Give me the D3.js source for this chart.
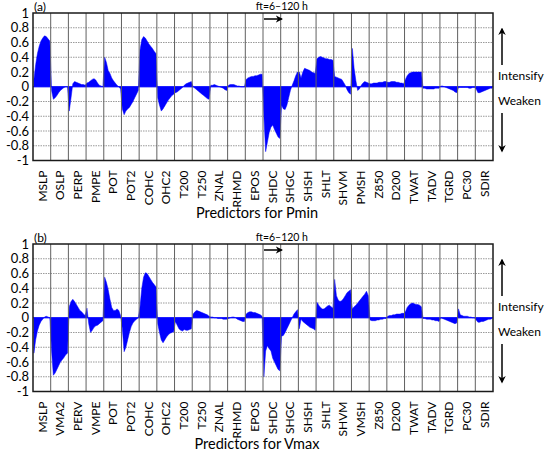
<!DOCTYPE html>
<html>
<head>
<meta charset="utf-8">
<script src="https://cdn.jsdelivr.net/npm/d3@7"></script>
<style>
  body { margin: 0; background: #fff; }
  svg text { font-family: Lato, "Open Sans", sans-serif; }
</style>
</head>
<body>
<div id="chart"></div>
<script>
// predictor names along the x axis
var predictorsA = ["MSLP","OSLP","PERP","PMPE","POT","POT2","COHC","OHC2","T200","T250","ZNAL","RHMD","EPOS",
                   "SHDC","SHGC","SHSH","SHLT","SHVM","PMSH","Z850","D200","TWAT","TADV","TGRD","PC30","SDIR"];
var predictorsB = ["MSLP","VMA2","PERV","VMPE","POT","POT2","COHC","OHC2","T200","T250","ZNAL","RHMD","EPOS",
                   "SHDC","SHGC","SHSH","SHLT","SHVM","VMSH","Z850","D200","TWAT","TADV","TGRD","PC30","SDIR"];

// values, one row per predictor, ft = 12..120 h
var valuesA = [
  [0.1, 0.3, 0.45, 0.55, 0.62, 0.66, 0.69, 0.68, 0.65, 0.62],
  [-0.05, -0.17, -0.15, -0.12, -0.08, -0.05, -0.03, -0.01, 0, 0],
  [-0.33, -0.15, 0.04, 0.07, 0.06, 0.05, 0.04, 0.03, 0.03, 0.02],
  [0.05, 0.06, 0.08, 0.1, 0.11, 0.09, 0.05, 0.02, 0.01, 0],
  [0.4, 0.33, 0.22, 0.18, 0.12, 0.08, 0.05, 0.02, 0, -0.03],
  [-0.3, -0.38, -0.33, -0.3, -0.28, -0.24, -0.2, -0.15, -0.1, -0.05],
  [0.5, 0.64, 0.68, 0.66, 0.62, 0.58, 0.55, 0.52, 0.48, 0.45],
  [-0.15, -0.25, -0.33, -0.3, -0.26, -0.22, -0.18, -0.15, -0.12, -0.1],
  [-0.08, -0.07, -0.05, -0.03, -0.01, 0.02, 0.04, 0.05, 0.06, 0.07],
  [0, -0.02, -0.04, -0.06, -0.08, -0.1, -0.12, -0.14, -0.16, -0.17],
  [0.02, 0.02, 0.03, 0.02, 0.01, 0, -0.01, -0.02, -0.04, -0.05],
  [0.02, 0.03, 0.03, 0.03, 0.02, 0.01, 0.01, 0, 0, 0],
  [0.1, 0.12, 0.13, 0.14, 0.14, 0.15, 0.15, 0.16, 0.17, 0.17],
  [-0.4, -0.88, -0.75, -0.62, -0.55, -0.52, -0.58, -0.63, -0.68, -0.7],
  [-0.25, -0.3, -0.31, -0.25, -0.15, -0.05, 0.02, 0.08, 0.15, 0.2],
  [0.2, 0.12, 0.2, 0.25, 0.24, 0.23, 0.22, 0.2, 0.19, 0.18],
  [0.38, 0.4, 0.41, 0.4, 0.39, 0.38, 0.38, 0.37, 0.37, 0.36],
  [0.14, 0.13, 0.12, 0.11, 0.1, 0.06, 0.02, -0.04, -0.08, -0.1],
  [0.52, 0.25, 0.08, -0.05, -0.03, 0.02, 0.05, 0.07, 0.06, 0.05],
  [0.04, 0.04, 0.05, 0.05, 0.05, 0.06, 0.06, 0.06, 0.07, 0.07],
  [0.06, 0.06, 0.07, 0.07, 0.07, 0.06, 0.06, 0.05, 0.05, 0.04],
  [0.1, 0.15, 0.18, 0.19, 0.2, 0.2, 0.2, 0.2, 0.2, 0.2],
  [-0.02, -0.02, -0.03, -0.03, -0.03, -0.03, -0.03, -0.02, -0.02, -0.02],
  [0.01, 0.01, 0, -0.01, -0.02, -0.03, -0.04, -0.05, -0.07, -0.08],
  [-0.01, -0.01, -0.01, -0.01, -0.01, -0.01, -0.02, -0.02, -0.01, -0.01],
  [-0.03, -0.08, -0.08, -0.07, -0.06, -0.05, -0.04, -0.03, -0.02, -0.02]
];
var valuesB = [
  [-0.48, -0.3, -0.18, -0.1, -0.05, -0.02, 0.01, 0.02, 0.01, 0],
  [-0.45, -0.78, -0.75, -0.7, -0.65, -0.6, -0.57, -0.54, -0.5, -0.48],
  [0.15, 0.22, 0.25, 0.22, 0.18, 0.14, 0.1, 0.08, 0.05, 0.03],
  [0.13, -0.08, -0.2, -0.17, -0.13, -0.11, -0.1, -0.08, -0.06, -0.04],
  [0.55, 0.48, 0.38, 0.25, 0.14, 0.1, 0.1, 0.12, 0.1, 0.03],
  [-0.15, -0.46, -0.4, -0.3, -0.2, -0.12, -0.07, -0.04, -0.02, 0],
  [0.15, 0.4, 0.55, 0.61, 0.6, 0.56, 0.52, 0.48, 0.45, 0.42],
  [-0.08, -0.2, -0.3, -0.34, -0.3, -0.26, -0.23, -0.21, -0.2, -0.19],
  [-0.05, -0.1, -0.15, -0.17, -0.18, -0.16, -0.17, -0.17, -0.16, -0.15],
  [0.05, 0.08, 0.1, 0.09, 0.08, 0.07, 0.06, 0.05, 0.04, 0.02],
  [0.01, 0.01, 0, 0, -0.01, -0.01, -0.01, -0.02, -0.02, -0.02],
  [-0.01, 0, 0.01, 0.01, 0, -0.02, -0.03, -0.04, -0.05, -0.05],
  [0.05, 0.07, 0.08, 0.08, 0.07, 0.07, 0.06, 0.05, 0.04, 0.02],
  [-0.8, -0.45, -0.38, -0.42, -0.45, -0.55, -0.6, -0.65, -0.7, -0.72],
  [-0.25, -0.24, -0.2, -0.15, -0.1, -0.05, 0, 0.05, 0.08, 0.11],
  [-0.15, -0.02, -0.05, -0.07, -0.09, -0.11, -0.13, -0.14, -0.15, -0.17],
  [0.21, 0.17, 0.14, 0.12, 0.12, 0.14, 0.16, 0.17, 0.15, 0.13],
  [0.52, 0.3, 0.24, 0.22, 0.23, 0.26, 0.3, 0.34, 0.36, 0.38],
  [0.12, 0.15, 0.17, 0.2, 0.23, 0.26, 0.29, 0.32, 0.36, 0.3],
  [-0.03, -0.04, -0.04, -0.04, -0.03, -0.03, -0.02, -0.02, -0.01, -0.01],
  [0.02, 0.03, 0.03, 0.04, 0.04, 0.05, 0.05, 0.05, 0.06, 0.06],
  [0.08, 0.14, 0.17, 0.19, 0.2, 0.19, 0.18, 0.18, 0.17, 0.15],
  [-0.01, -0.01, -0.02, -0.02, -0.02, -0.03, -0.03, -0.04, -0.04, -0.05],
  [0, -0.01, -0.02, -0.03, -0.04, -0.05, -0.06, -0.07, -0.08, -0.07],
  [0.12, 0.04, 0.03, 0.02, 0.02, 0.02, 0.01, 0.01, 0, 0],
  [-0.03, -0.06, -0.06, -0.05, -0.05, -0.04, -0.03, -0.02, -0.02, -0.01]
];

var yTicks = [-1, -0.8, -0.6, -0.4, -0.2, 0, 0.2, 0.4, 0.6, 0.8, 1];

var W = 546, H = 454;
var left = 33, right = 493;

var svg = d3.select("#chart").append("svg")
    .attr("width", W)
    .attr("height", H);

// arrow head
svg.append("defs").append("marker")
    .attr("id", "head")
    .attr("viewBox", "0 0 10 10")
    .attr("refX", 8).attr("refY", 5)
    .attr("markerWidth", 5).attr("markerHeight", 5)
    .attr("orient", "auto")
    .append("path")
    .attr("d", "M0,0 L10,5 L0,10 L3,5 Z")
    .attr("fill", "#000");

function drawPanel(top, names, values, tag, title) {
    var bottom = top + 147.5;
    var n = names.length;
    var steps = values[0].length;

    var x = d3.scaleLinear().domain([0, n]).range([left, right]);
    var y = d3.scaleLinear().domain([-1, 1]).range([bottom, top]);

    var g = svg.append("g");

    // dotted horizontal grid
    g.selectAll(".hg")
        .data(yTicks.filter(function(d) { return d > -1 && d < 1 && d !== 0; }))
        .enter().append("line")
        .attr("x1", left).attr("x2", right)
        .attr("y1", function(d) { return y(d); })
        .attr("y2", function(d) { return y(d); })
        .attr("stroke", "#9a9a9a")
        .attr("stroke-width", 1)
        .attr("stroke-dasharray", "1.5,1");

    // series, flattened
    var pts = [];
    values.forEach(function(row, k) {
        row.forEach(function(v, j) {
            pts.push({ i: k + (j + 0.5) / steps, v: v });
        });
    });

    var area = d3.area()
        .x(function(d) { return x(d.i); })
        .y0(y(0))
        .y1(function(d) { return y(d.v); });

    g.append("path")
        .datum(pts)
        .attr("d", area)
        .attr("fill", "#0000ff")
        .attr("stroke", "#0000ff")
        .attr("stroke-width", 0.5);

    // zero line
    g.append("line")
        .attr("x1", left).attr("x2", right)
        .attr("y1", y(0)).attr("y2", y(0))
        .attr("stroke", "#0000ff")
        .attr("stroke-width", 1);

    // vertical separators
    g.selectAll(".vg")
        .data(d3.range(1, n))
        .enter().append("line")
        .attr("x1", function(d) { return x(d); })
        .attr("x2", function(d) { return x(d); })
        .attr("y1", top).attr("y2", bottom)
        .attr("stroke", "#606060")
        .attr("stroke-width", 1);

    // frame
    g.append("rect")
        .attr("x", left).attr("y", top)
        .attr("width", right - left).attr("height", bottom - top)
        .attr("fill", "none")
        .attr("stroke", "#1a1a1a")
        .attr("stroke-width", 1.5);

    // y axis labels
    var ax = g.append("g")
        .attr("transform", "translate(" + left + ",0)")
        .call(d3.axisLeft(y).tickValues(yTicks).tickSize(0).tickPadding(4)
            .tickFormat(function(d) { return String(+d.toFixed(1)); }));
    ax.select(".domain").remove();
    ax.selectAll("text")
        .style("font-family", "Lato, sans-serif")
        .style("font-size", "13px")
        .attr("fill", "#000");

    // x labels, rotated
    var xa = g.append("g")
        .attr("transform", "translate(0," + bottom + ")")
        .call(d3.axisBottom(x).tickValues(d3.range(n).map(function(k) { return k + 0.5; }))
            .tickSize(0)
            .tickFormat(function(d) { return names[Math.floor(d)]; }));
    xa.select(".domain").remove();
    xa.selectAll("text")
        .attr("transform", "rotate(-90)")
        .attr("x", -10)
        .attr("y", 0)
        .attr("dy", "0.35em")
        .style("text-anchor", "end")
        .style("font-family", "Lato, sans-serif")
        .style("font-size", "12px")
        .attr("fill", "#000");

    svg.append("text")
        .attr("x", (left + right) / 2 - 6)
        .attr("y", bottom + 57)
        .attr("text-anchor", "middle")
        .style("font-size", "14.5px")
        .text(title);

    svg.append("text")
        .attr("x", left + 1)
        .attr("y", top - 2)
        .style("font-size", "12px")
        .text(tag);

    // forecast-time note and arrow over SHDC
    svg.append("text")
        .attr("x", x(13.5) + 10)
        .attr("y", top - 3)
        .attr("text-anchor", "middle")
        .style("font-size", "10.5px")
        .text("ft=6\u2013120 h");
    svg.append("line")
        .attr("x1", x(13) + 1).attr("x2", x(14) + 1)
        .attr("y1", top + 6).attr("y2", top + 6)
        .attr("stroke", "#000").attr("stroke-width", 1.5)
        .attr("marker-end", "url(#head)");

    // intensify / weaken arrows
    var ax0 = 502;
    svg.append("line")
        .attr("x1", ax0).attr("x2", ax0)
        .attr("y1", top + 52).attr("y2", top + 16)
        .attr("stroke", "#000").attr("stroke-width", 1.5)
        .attr("marker-end", "url(#head)");
    svg.append("line")
        .attr("x1", ax0).attr("x2", ax0)
        .attr("y1", top + 100).attr("y2", top + 138)
        .attr("stroke", "#000").attr("stroke-width", 1.5)
        .attr("marker-end", "url(#head)");
    svg.append("text")
        .attr("x", 498).attr("y", top + 67)
        .style("font-size", "12px")
        .text("Intensify");
    svg.append("text")
        .attr("x", 498).attr("y", top + 92)
        .style("font-size", "12px")
        .text("Weaken");
}

drawPanel(13, predictorsA, valuesA, "(a)", "Predictors for Pmin");
drawPanel(244, predictorsB, valuesB, "(b)", "Predictors for Vmax");
</script>
</body>
</html>
